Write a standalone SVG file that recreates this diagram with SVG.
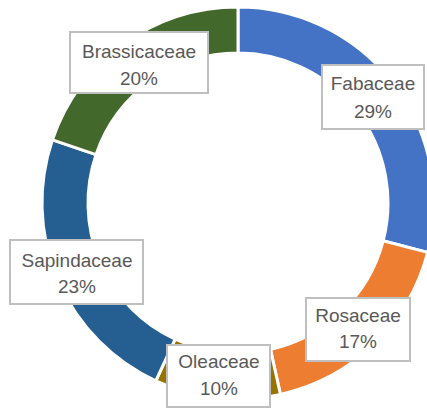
<svg xmlns="http://www.w3.org/2000/svg" width="427" height="412" viewBox="0 0 427 412">
  <style>
    .slice { stroke: #ffffff; stroke-width: 3; stroke-linejoin: miter; }
    .box { fill: #ffffff; stroke: #bfbfbf; stroke-width: 2; }
    .lbl { font-family: "Liberation Sans", Arial, sans-serif; font-size: 19px; fill: #595959; text-anchor: middle; }
  </style>
  <rect width="427" height="412" fill="#ffffff"/>

  <!-- donut ring: centre (238,203), outer radius 196, inner radius 150 -->
  <g id="ring">
    <path id="slice-fabaceae" class="slice" fill="#4472c4"
          d="M238,7 A196,196 0 0 1 427.67,252.41 L383.16,240.81 A150,150 0 0 0 238,53 Z"/>
    <path id="slice-rosaceae" class="slice" fill="#ed7d31"
          d="M427.67,252.41 A196,196 0 0 1 280.42,394.35 L270.47,349.45 A150,150 0 0 0 383.16,240.81 Z"/>
    <path id="slice-oleaceae" class="slice" fill="#997300"
          d="M280.42,394.35 A196,196 0 0 1 155.79,380.92 L175.08,339.17 A150,150 0 0 0 270.47,349.45 Z"/>
    <path id="slice-sapindaceae" class="slice" fill="#255e91"
          d="M155.79,380.92 A196,196 0 0 1 52.46,139.84 L96.00,154.66 A150,150 0 0 0 175.08,339.17 Z"/>
    <path id="slice-brassicaceae" class="slice" fill="#43682b"
          d="M52.46,139.84 A196,196 0 0 1 238,7 L238,53 A150,150 0 0 0 96.00,154.66 Z"/>
  </g>

  <!-- data labels -->
  <g id="label-brassicaceae">
    <rect class="box" x="70" y="32" width="138" height="61"/>
    <text class="lbl" x="139" y="58">Brassicaceae</text>
    <text class="lbl" x="139" y="85">20%</text>
  </g>
  <g id="label-fabaceae">
    <rect class="box" x="322" y="65" width="102" height="64"/>
    <text class="lbl" x="373" y="90">Fabaceae</text>
    <text class="lbl" x="373" y="118">29%</text>
  </g>
  <g id="label-sapindaceae">
    <rect class="box" x="10" y="240" width="133" height="64"/>
    <text class="lbl" x="77" y="267">Sapindaceae</text>
    <text class="lbl" x="77" y="293">23%</text>
  </g>
  <g id="label-rosaceae">
    <rect class="box" x="306" y="298" width="104" height="63"/>
    <text class="lbl" x="358" y="322">Rosaceae</text>
    <text class="lbl" x="358" y="348">17%</text>
  </g>
  <g id="label-oleaceae">
    <rect class="box" x="167" y="345" width="103" height="62"/>
    <text class="lbl" x="219" y="368">Oleaceae</text>
    <text class="lbl" x="219" y="395">10%</text>
  </g>
</svg>
